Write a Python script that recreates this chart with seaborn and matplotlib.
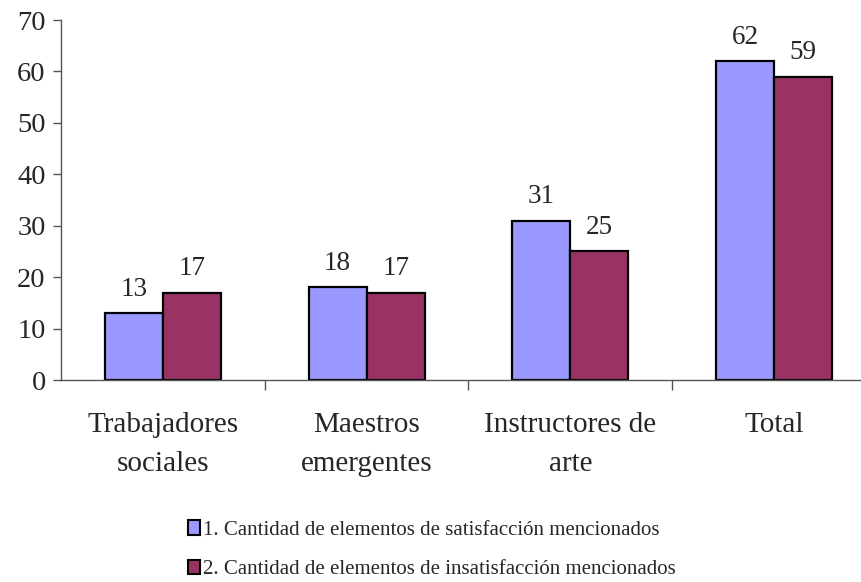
import matplotlib
matplotlib.use("Agg")
import matplotlib.pyplot as plt
import seaborn as sns
import pandas as pd
from matplotlib.patches import Patch

categories = ["Trabajadores\nsociales", "Maestros\nemergentes", "Instructores de\narte", "Total"]
satisfaccion = [13, 18, 31, 62]
insatisfaccion = [17, 17, 25, 59]
series_names = ["1. Cantidad de elementos de satisfacción mencionados",
                "2. Cantidad de elementos de insatisfacción mencionados"]
colors = ["#9999FF", "#993366"]

df = pd.DataFrame({
    "cat": categories * 2,
    "val": satisfaccion + insatisfaccion,
    "serie": [series_names[0]] * 4 + [series_names[1]] * 4,
})

sns.set_style("white")
plt.rcParams["font.family"] = ["Liberation Serif", "DejaVu Serif"]

fig = plt.figure(figsize=(8.62, 5.82), dpi=100)
ax = fig.add_axes([61/862, (582-380)/582, 815/862, 360/582])
sns.barplot(data=df, x="cat", y="val", hue="serie", palette=colors,
            width=0.57, edgecolor="black", linewidth=1.6, ax=ax, legend=False,
            saturation=1)

for c in ax.containers:
    ax.bar_label(c, fontsize=19.5, padding=8)

ax.set_xlim(-0.5, 3.5)
ax.set_ylim(0, 70)
ax.set_yticks(range(0, 71, 10))
ax.set_xlabel("")
ax.set_ylabel("")
for s in ["top", "right"]:
    ax.spines[s].set_visible(False)
ax.spines["left"].set_color("#555555")
ax.spines["bottom"].set_color("#555555")
ax.spines["left"].set_linewidth(1)
ax.spines["bottom"].set_linewidth(1)
ax.tick_params(axis="y", which="major", length=6, width=1, color="#555555",
               labelsize=20.5, pad=5, left=True)
ax.tick_params(axis="x", which="major", length=0, labelsize=21, pad=23)
ax.set_xticks([0.5, 1.5, 2.5, 3.5], minor=True)
ax.tick_params(axis="x", which="minor", length=7, width=1, color="#555555", bottom=True, direction="out")
for lbl in ax.get_xticklabels():
    lbl.set_linespacing(1.65)

handles = [Patch(facecolor=colors[i], edgecolor="black", linewidth=1.5, label=series_names[i]) for i in range(2)]
fig.legend(handles=handles, loc="upper left", bbox_to_anchor=(180/862, 1 - 512/582),
           frameon=False, fontsize=15, handlelength=0.55, handleheight=0.7,
           handletextpad=0.15, labelspacing=0.95, borderaxespad=0)

fig.savefig("out.png", dpi=100)
